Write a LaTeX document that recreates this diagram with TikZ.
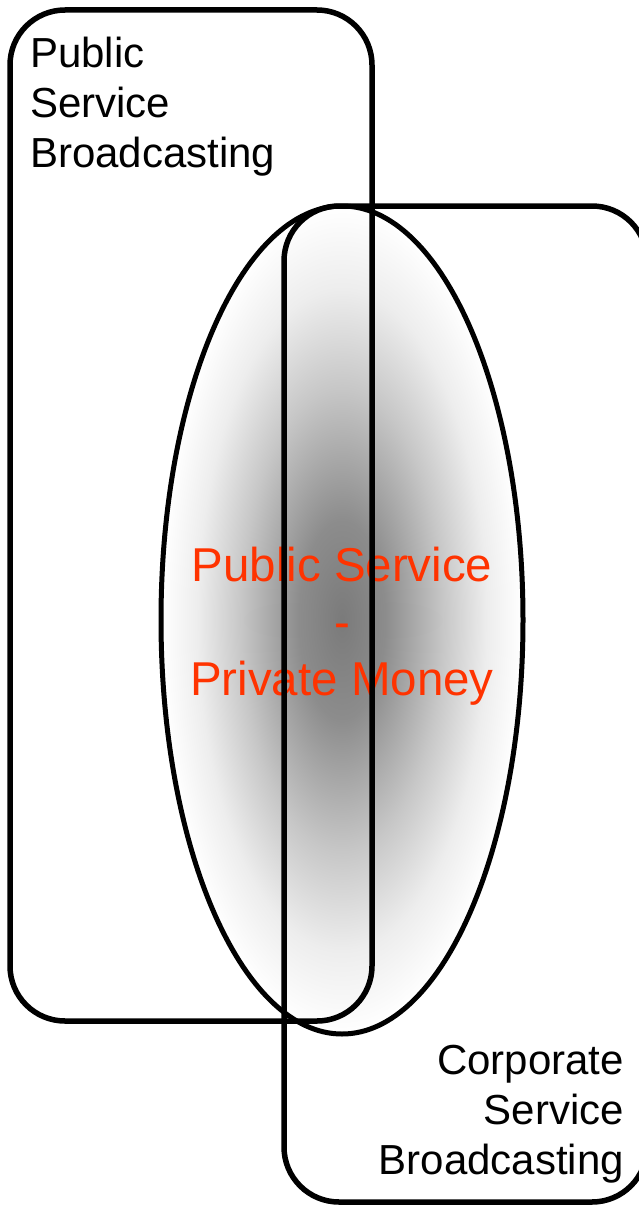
\documentclass[tikz,border=0pt]{standalone}
\usepackage{fontspec}
\setmainfont{Liberation Sans}
\usetikzlibrary{shapes.geometric}

\definecolor{psred}{RGB}{255,51,0}

% soft grey glow for the overlap ellipse (25bp = edge of the shape)
\pgfdeclareradialshading{glow}{\pgfpoint{0bp}{0bp}}{%
    color(0bp)=(black!52);
    color(6bp)=(black!45);
    color(14bp)=(black!22);
    color(20bp)=(black!7);
    color(25bp)=(white);
    color(50bp)=(white)}

\begin{document}
\begin{tikzpicture}[
    x=1pt, y=-1pt,
    frame/.style={
        rectangle, draw, line width=5.5pt, rounded corners=55pt,
        inner sep=0pt
    },
    blob/.style={
        ellipse, draw, line width=5pt, shading=glow,
        inner sep=0pt
    },
    label/.style={inner sep=0pt, font=\fontsize{42}{50}\selectfont},
    overlap/.style={inner sep=0pt, text=psred, align=center,
        font=\fontsize{47.5}{57}\selectfont},
]
    \useasboundingbox (0,0) rectangle (639,1207);

    % ---------- shared middle ground ----------
    \node[blob, minimum width=362pt, minimum height=828pt] (mix) at (342,620) {};
    \node[overlap] (mix-text) at (342,626) {Public Service\\-\\Private Money};

    % ---------- the two sectors ----------
    \node[frame, minimum width=362pt, minimum height=1011pt] (public) at (191,515.5) {};
    \node[frame, minimum width=363pt, minimum height=996pt] (corporate) at (465.5,704) {};

    % ---------- Labels ----------
    \node[label, anchor=north west, align=left] (public-label) at (30,37)
        {Public\\Service\\Broadcasting};
    \node[label, anchor=north east, align=right] (corporate-label) at (624,1045)
        {Corporate\\Service\\Broadcasting};

\end{tikzpicture}
\end{document}
